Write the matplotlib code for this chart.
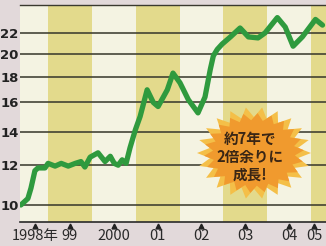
import numpy as np
import matplotlib
matplotlib.use("Agg")
import matplotlib.pyplot as plt
from matplotlib.patches import Polygon
from matplotlib.ticker import FixedLocator, FixedFormatter, NullLocator

plt.rcParams["font.family"] = ["Noto Sans CJK JP", "DejaVu Sans"]

# Daten: Zeit in Jahren, Wert
t = [1998.38, 1998.54, 1998.61, 1998.70, 1998.77, 1998.93, 1999.00, 1999.16,
     1999.30, 1999.46, 1999.62, 1999.75, 1999.84, 1999.96, 2000.14, 2000.30,
     2000.42, 2000.51, 2000.60, 2000.69, 2000.78, 2000.87, 2000.99, 2001.10,
     2001.26, 2001.40, 2001.51, 2001.72, 2001.85, 2002.01, 2002.20, 2002.42,
     2002.58, 2002.70, 2002.77, 2002.86, 2002.97, 2003.16, 2003.38, 2003.57,
     2003.79, 2003.95, 2004.23, 2004.41, 2004.59, 2004.80, 2005.10, 2005.26]
werte = [10.0, 10.3, 10.8, 11.7, 11.85, 11.85, 12.1, 11.95,
         12.1, 11.95, 12.1, 12.2, 11.9, 12.45, 12.7, 12.2,
         12.5, 12.1, 12.0, 12.3, 12.1, 13.0, 14.1, 15.0,
         16.95, 16.0, 15.7, 16.95, 18.3, 17.5, 16.2, 15.25,
         16.4, 18.6, 19.8, 20.4, 20.9, 21.6, 22.5, 21.6,
         21.5, 22.0, 23.6, 22.6, 20.7, 21.6, 23.4, 22.8]

y_ticks = [10, 12, 14, 16, 18, 20, 22]
x_ticks = [1998.70, 1999.5, 2000.5, 2001.5, 2002.5, 2003.5, 2004.5, 2005.07]
x_labels = ["1998年", "99", "2000", "01", "02", "03", "04", "05"]
jahre = [1998, 1999, 2000, 2001, 2002, 2003, 2004, 2005]

fig = plt.figure(figsize=(3.26, 2.46), dpi=100, facecolor="#e2d9da")
ax = fig.add_axes([20 / 326, 24 / 246, 306 / 326, 217 / 246])

# Hintergrund: abwechselnd weiße und gelbe Jahresstreifen
for i, j in enumerate(jahre):
    ax.axvspan(j, j + 1, color="#f4f3e2" if i % 2 == 0 else "#e3da8c", lw=0, zorder=0)

ax.set_yscale("log")
ax.set_ylim(9.25, 25)
ax.set_xlim(1998.36, 2005.34)

for v in y_ticks:
    ax.axhline(v, color="#35352a", lw=1.1, zorder=1)

ax.plot(t, werte, color="#2f9a3e", lw=3.8, solid_joinstyle="round",
        solid_capstyle="round", zorder=3)

ax.yaxis.set_major_locator(FixedLocator(y_ticks))
ax.yaxis.set_major_formatter(FixedFormatter([str(v) for v in y_ticks]))
ax.yaxis.set_minor_locator(NullLocator())
ax.xaxis.set_major_locator(FixedLocator(x_ticks))
ax.xaxis.set_major_formatter(FixedFormatter(x_labels))
ax.xaxis.set_minor_locator(NullLocator())
ax.tick_params(axis="y", length=0, pad=1, labelsize=9.5, labelcolor="#222222")
ax.tick_params(axis="x", length=0, pad=5, labelsize=10.5, labelcolor="#2a2a2a")
for lbl in ax.get_yticklabels():
    lbl.set_fontweight("bold")
    lbl.set_family("DejaVu Sans")

for s in ["left", "right"]:
    ax.spines[s].set_visible(False)
ax.spines["bottom"].set_color("#2a2a2a")
ax.spines["top"].set_color("#3a3a30")
ax.spines["bottom"].set_linewidth(1.2)
ax.spines["top"].set_linewidth(1.0)

# kleine Dreiecke als Tickmarken
ax.plot(x_ticks, [-0.02] * len(x_ticks), "^", ms=3.5, color="#222222",
        transform=ax.get_xaxis_transform(), clip_on=False)


# Stern mit Text
def stern(cx, cy, rx, ry, n, tiefe, phase=0.0):
    ang = np.linspace(0, 2 * np.pi, 2 * n, endpoint=False) + phase
    r = np.where(np.arange(2 * n) % 2 == 0, 1.0, tiefe)
    return np.column_stack([(cx + rx * r * np.cos(ang)) / 326,
                            (cy + ry * r * np.sin(ang)) / 246])


cx, cy = 254, 246 - 153
fig.add_artist(Polygon(stern(cx, cy, 57, 46, 22, 0.78), closed=True,
                       transform=fig.transFigure, fc="#f4bf48", ec="none",
                       zorder=5))
fig.add_artist(Polygon(stern(cx, cy, 50, 40, 22, 0.82, 0.07), closed=True,
                       transform=fig.transFigure, fc="#f09a2e", ec="none",
                       zorder=6))
fig.text(250 / 326, 1 - 157 / 246, "約7年で\n2倍余りに\n成長!", ha="center",
         va="center", fontsize=10.5, fontweight="bold", color="#3a2615",
         linespacing=1.15, zorder=7)

fig.savefig("out.png", dpi=100, facecolor=fig.get_facecolor())
